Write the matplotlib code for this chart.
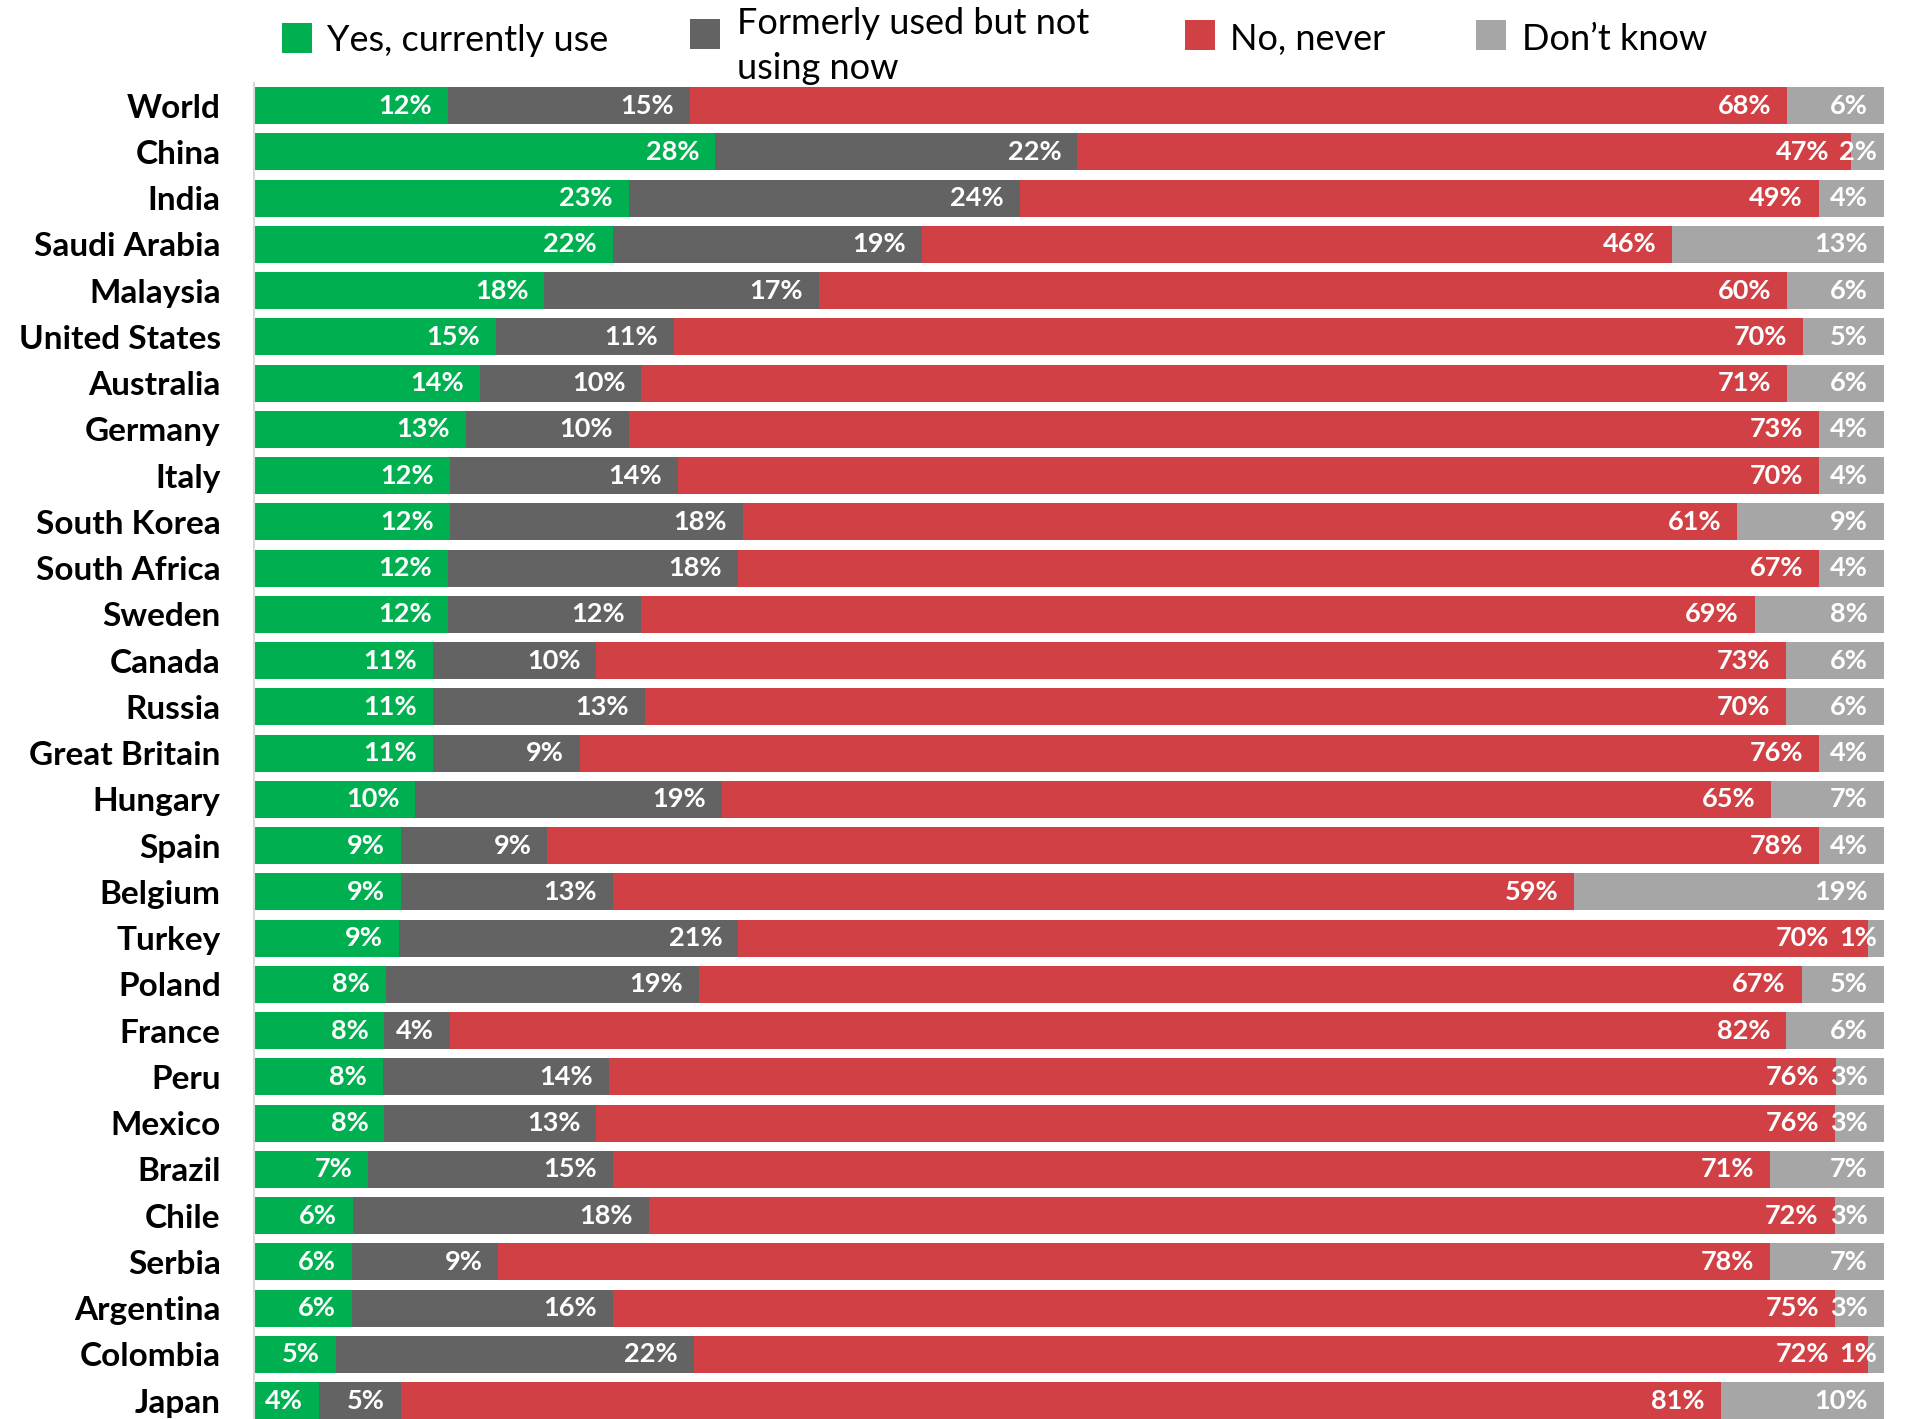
import numpy as np
import matplotlib
matplotlib.use("Agg")
import matplotlib.pyplot as plt
from matplotlib.patches import Rectangle


countries = [
    "World", "China", "India", "Saudi Arabia", "Malaysia", "United States",
    "Australia", "Germany", "Italy", "South Korea", "South Africa", "Sweden",
    "Canada", "Russia", "Great Britain", "Hungary", "Spain", "Belgium",
    "Turkey", "Poland", "France", "Peru", "Mexico", "Brazil", "Chile",
    "Serbia", "Argentina", "Colombia", "Japan",
]
yes_now = [12, 28, 23, 22, 18, 15, 14, 13, 12, 12, 12, 12, 11, 11, 11, 10,
           9, 9, 9, 8, 8, 8, 8, 7, 6, 6, 6, 5, 4]
former = [15, 22, 24, 19, 17, 11, 10, 10, 14, 18, 18, 12, 10, 13, 9, 19,
          9, 13, 21, 19, 4, 14, 13, 15, 18, 9, 16, 22, 5]
never = [68, 47, 49, 46, 60, 70, 71, 73, 70, 61, 67, 69, 73, 70, 76, 65,
         78, 59, 70, 67, 82, 76, 76, 71, 72, 78, 75, 72, 81]
dont_know = [6, 2, 4, 13, 6, 5, 6, 4, 4, 9, 4, 8, 6, 6, 4, 7,
             4, 19, 1, 5, 6, 3, 3, 7, 3, 7, 3, 1, 10]

series_names = ["Yes, currently use", "Formerly used but not\nusing now",
                "No, never", "Don\u2019t know"]
colors = ["#00B050", "#636363", "#D04045", "#A6A6A6"]

W, H, DPI = 1905, 1419, 100


def main() -> None:
    plt.rcParams["font.family"] = ["Lato", "DejaVu Sans"]
    fig = plt.figure(figsize=(W / DPI, H / DPI), dpi=DPI)
    ax = fig.add_axes([254 / W, 0, (1884 - 254) / W, (H - 83) / H])

    raw = np.array([yes_now, former, never, dont_know], dtype=float)
    share = raw / raw.sum(axis=0) * 100
    y = np.arange(len(countries))
    left = np.zeros(len(countries))
    ends = []
    texts = []
    for k in range(4):
        ax.barh(y, share[k], left=left, height=0.8, color=colors[k], linewidth=0)
        left = left + share[k]
        ends.append(left.copy())
        texts.append([
            ax.text(left[i], y[i], f"{int(raw[k][i])}%", ha="right", va="center",
                    color="white", fontsize=19.5, fontweight="bold")
            for i in range(len(countries))
        ])

    ax.set_xlim(0, 100)
    ax.set_ylim(28.4, -0.4865)
    ax.set_yticks(y, countries, fontsize=24, fontweight="bold")
    ax.tick_params(axis="y", length=0, pad=24)
    ax.set_xticks([])
    for side in ("top", "right", "bottom"):
        ax.spines[side].set_visible(False)
    ax.spines["left"].set_color("#D9D9D9")
    ax.spines["left"].set_linewidth(1.5)

    # place value labels at the inner end of each segment, avoiding overlaps
    fig.canvas.draw()
    renderer = fig.canvas.get_renderer()
    inv = ax.transData.inverted()
    for i in range(len(countries)):
        next_left = None
        for k in reversed(range(4)):
            t = texts[k][i]
            end_px, y_px = ax.transData.transform((ends[k][i], y[i]))
            pad = 7 if raw[k][i] <= 2 else 16
            right = end_px - pad
            if next_left is not None:
                right = min(right, next_left - 10)
            t.set_x(inv.transform((right, y_px))[0])
            next_left = right - t.get_window_extent(renderer).width

    # legend across the top
    boxes = [(282, 23), (690, 19), (1185, 20), (1476, 20)]
    text_x = [327, 737, 1230, 1522]
    baselines = [51, 34, 50, 50]
    for k in range(4):
        bx, by = boxes[k]
        fig.add_artist(Rectangle((bx / W, 1 - (by + 30) / H), 30 / W, 30 / H,
                                 transform=fig.transFigure, color=colors[k], lw=0))
        for j, line in enumerate(series_names[k].split("\n")):
            fig.text(text_x[k] / W, 1 - (baselines[k] + 45 * j) / H, line,
                     fontsize=26, va="baseline", ha="left", color="black")

    fig.savefig("out.png", dpi=DPI)
    plt.close(fig)


if __name__ == "__main__":
    main()
